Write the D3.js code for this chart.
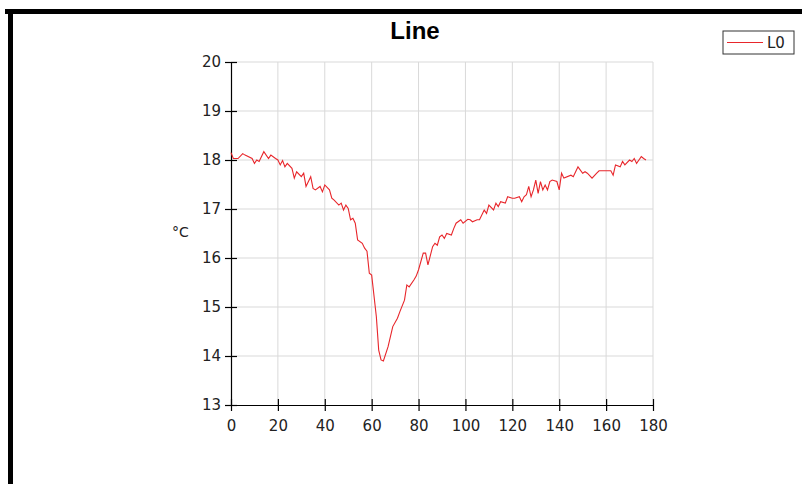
<!DOCTYPE html>
<html lang="en">
<head>
<meta charset="UTF-8">
<title>Line</title>
<script src="https://d3js.org/d3.v7.min.js"></script>
<style>
  body { margin: 0; background: #fff; }
  .tick text { font-family: "DejaVu Sans", sans-serif; font-size: 15px; fill: #222; }
  .grid line { stroke: #d9d9d9; }
</style>
</head>
<body>
<div id="chart"></div>
<script>
// readings (x, °C) off the reference
const xs = [0, 1, 3, 5, 6, 9, 10, 11, 12, 14, 16, 17, 19, 20, 21, 22, 23, 24, 26, 27, 28, 30, 31, 32, 34, 35, 36, 38, 39, 40,
  42, 43, 44, 46, 47, 48, 49, 50, 51, 52, 53, 54, 56, 57, 58, 59, 60, 62, 63, 64, 65, 67, 69, 71, 72, 74, 75, 76, 78, 79, 80,
  82, 83, 84, 86, 87, 88, 89, 90, 91, 92, 94, 95, 96, 98, 99, 101, 102, 103, 105, 106, 108, 109, 110, 112, 113, 114, 115, 117,
  118, 120, 121, 123, 124, 125, 126, 127, 128, 129, 130, 131, 132, 133, 134, 135, 136, 137, 139, 140, 141, 142, 145, 146, 147,
  148, 150, 151, 152, 154, 156, 157, 160, 162, 163, 164, 166, 167, 168, 170, 171, 172, 173, 174, 175, 176, 177];
const temps = [18.15, 18.03, 18.03, 18.13, 18.10, 18.03, 17.93, 18.00, 17.97, 18.17, 18.03, 18.10, 18.03, 18.00, 17.90, 17.99,
  17.86, 17.93, 17.83, 17.63, 17.76, 17.66, 17.73, 17.46, 17.66, 17.42, 17.39, 17.46, 17.35, 17.49,
  17.39, 17.22, 17.18, 17.08, 17.12, 16.98, 17.08, 17.01, 16.78, 16.81, 16.71, 16.37, 16.30, 16.20, 16.14, 15.69, 15.65,
  14.80, 14.12, 13.92, 13.90, 14.19, 14.60, 14.77, 14.90, 15.14, 15.45, 15.41, 15.55, 15.63, 15.76,
  16.10, 16.10, 15.86, 16.23, 16.30, 16.26, 16.43, 16.47, 16.40, 16.50, 16.47, 16.60, 16.71, 16.78, 16.71, 16.79, 16.78,
  16.74, 16.78, 16.78, 16.98, 16.91, 17.08, 16.98, 17.12, 17.05, 17.15, 17.12,
  17.25, 17.22, 17.22, 17.25, 17.15, 17.25, 17.29, 17.46, 17.25, 17.39, 17.59, 17.32, 17.56, 17.39, 17.49, 17.39, 17.56,
  17.59, 17.56, 17.39, 17.73, 17.63, 17.69, 17.66, 17.76,
  17.86, 17.73, 17.76, 17.73, 17.63, 17.73, 17.78, 17.78, 17.78, 17.69, 17.90, 17.86, 17.97, 17.90, 18.00, 17.97, 18.03,
  17.93, 18.00, 18.07, 18.03, 18.00];
const xTicks = [0, 20, 40, 60, 80, 100, 120, 140, 160, 180];
const yTicks = [13, 14, 15, 16, 17, 18, 19, 20];
const seriesName = "L0";
const title = "Line";
const yLabel = "°C";

const W = 802, H = 484;
const margin = { top: 62, right: 149, bottom: 79, left: 231 },
  width = W - margin.left - margin.right,
  height = H - margin.top - margin.bottom;

const root = d3.select("#chart").append("svg")
  .attr("width", W).attr("height", H);

root.append("rect").attr("width", W).attr("height", H).attr("fill", "#fff");

// black frame on top and left
root.append("rect").attr("x", 5).attr("y", 9).attr("width", W - 5).attr("height", 5).attr("fill", "#000");
root.append("rect").attr("x", 8).attr("y", 9).attr("width", 5).attr("height", H - 9).attr("fill", "#000");

const svg = root.append("g").attr("transform", `translate(${margin.left},${margin.top})`);

const x = d3.scaleLinear().domain([0, 180]).range([0, width]);
const y = d3.scaleLinear().domain([13, 20]).range([height, 0]);

// grid
svg.append("g").attr("class", "grid")
  .selectAll("line").data(xTicks.slice(1)).join("line")
  .attr("x1", d => x(d)).attr("x2", d => x(d))
  .attr("y1", 0).attr("y2", height);
svg.append("g").attr("class", "grid")
  .selectAll("line").data(yTicks.slice(1)).join("line")
  .attr("x1", 0).attr("x2", width)
  .attr("y1", d => y(d)).attr("y2", d => y(d));

// axes
const gx = svg.append("g")
  .attr("transform", `translate(0,${height})`)
  .call(d3.axisBottom(x).tickValues(xTicks).tickFormat(d3.format("d"))
    .tickSize(6).tickSizeOuter(0).tickPadding(9));
gx.selectAll(".tick line").attr("y1", -6).attr("y2", 6);

const gy = svg.append("g")
  .call(d3.axisLeft(y).tickValues(yTicks).tickFormat(d3.format("d"))
    .tickSize(6).tickSizeOuter(0).tickPadding(4));
gy.selectAll(".tick line").attr("x1", 6).attr("x2", -6);

svg.selectAll(".domain").attr("stroke", "#000").attr("stroke-width", 1.2);
svg.selectAll(".tick line").attr("stroke", "#000").attr("stroke-width", 1.2);

// line
const pts = xs.map((v, i) => [v, temps[i]]);
svg.append("path")
  .datum(pts)
  .attr("fill", "none")
  .attr("stroke", "#e8262b")
  .attr("stroke-width", 1.1)
  .attr("d", d3.line().x(d => x(d[0])).y(d => y(d[1])));

// title
root.append("text")
  .attr("x", 415).attr("y", 39)
  .attr("text-anchor", "middle")
  .style("font-family", "'Liberation Sans', Arial, sans-serif")
  .style("font-weight", "bold")
  .style("font-size", "24px")
  .text(title);

// y label
root.append("text")
  .attr("x", 172).attr("y", 237)
  .style("font-family", "'DejaVu Sans', sans-serif")
  .style("font-size", "14px")
  .attr("fill", "#222")
  .text(yLabel);

// legend
const lg = root.append("g").attr("transform", "translate(723,31)");
lg.append("rect").attr("width", 71).attr("height", 23)
  .attr("fill", "#fff").attr("stroke", "#333").attr("stroke-width", 1);
lg.append("line").attr("x1", 4).attr("x2", 40).attr("y1", 11.5).attr("y2", 11.5)
  .attr("stroke", "#e8262b").attr("stroke-width", 1.1);
lg.append("text").attr("x", 44).attr("y", 17)
  .style("font-family", "'DejaVu Sans', sans-serif")
  .style("font-size", "15px")
  .attr("fill", "#222")
  .text(seriesName);
</script>
</body>
</html>
